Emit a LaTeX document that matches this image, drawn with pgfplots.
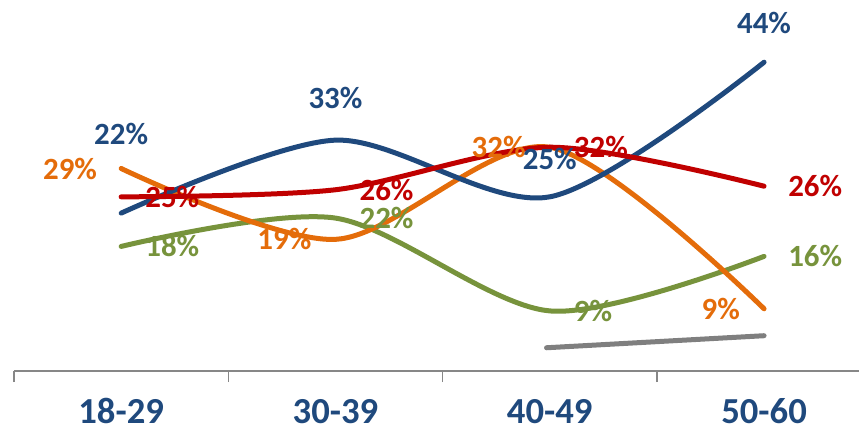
\documentclass[border=0pt]{standalone}
\usepackage{fontspec}
\setmainfont{Carlito}
\usepackage{pgfplots}
\pgfplotsset{compat=1.18}
\usepackage{pgfplotstable}
\definecolor{cblue}{HTML}{1F497D}
\definecolor{corange}{HTML}{E46C0A}
\definecolor{cred}{HTML}{C00000}
\definecolor{cgreen}{HTML}{77933C}
\definecolor{cgray}{HTML}{7F7F7F}
\definecolor{caxis}{HTML}{878787}
\tikzset{lbl/.style={font=\fontsize{31}{31}\selectfont\bfseries, inner sep=0pt}}

\pgfplotstableread{
x y lbl dy
0 22.7 22 79
1 33 33 42
2 25 25 38
3 44 44 39
}\blueT
\pgfplotstableread{
x y lbl
0 29 29
1 19 19
2 32 32
3 9.2 9
}\orangeT
\pgfplotstableread{
x y lbl
0 25 25
1 26 26
2 32 32
3 26.5 26
}\redT
\pgfplotstableread{
x y lbl
0 18 18
1 22 22
2 8.9 9
3 16.6 16
}\greenT
\pgfplotstableread{
x y
1.985 3.7
3 5.4
}\grayT

\begin{document}
\begin{tikzpicture}
\begin{axis}[
 at={(0,0)}, anchor=south west,
 scale only axis, width=845bp, height=371bp,
 xmin=-0.5, xmax=3.443, ymin=0.42, ymax=52.78,
 axis x line*=bottom, axis y line=none,
 axis line style={caxis, line width=1.5bp},
 xtick={0,1,2,3}, xticklabels={18-29,30-39,40-49,50-60},
 major tick length=0pt,
 extra x ticks={-0.5,0.5,1.5,2.5},
 extra x tick labels={},
 extra x tick style={major tick length=11bp, tick align=outside, tick style={caxis, line width=1.5bp}},
 xticklabel style={font=\fontsize{36.8}{40}\selectfont\bfseries, text=cblue, anchor=base, inner sep=0pt, yshift=-52bp},
 ytick=\empty,
 clip=false,
]
\addplot[cgray, line width=5bp, line cap=round] table[x=x,y=y]{\grayT};
\addplot[cgreen, smooth, line width=5bp, line cap=round] table[x=x,y=y]{\greenT};
\addplot[corange, smooth, line width=5bp, line cap=round] table[x=x,y=y]{\orangeT};
\addplot[cblue, smooth, line width=5bp, line cap=round] table[x=x,y=y]{\blueT};
\addplot[cred, smooth, line width=5bp, line cap=round] table[x=x,y=y]{\redT};

\addplot[draw=none, mark=none, point meta=explicit symbolic,
  nodes near coords={\pgfplotspointmeta\%},
  every node near coord/.append style={lbl, anchor=west, xshift=24bp, text=cgreen}]
  table[x=x,y=y,meta=lbl]{\greenT};
\addplot[draw=none, mark=none, point meta=explicit symbolic,
  nodes near coords={\pgfplotspointmeta\%},
  every node near coord/.append style={lbl, anchor=east, xshift=-24bp, text=corange}]
  table[x=x,y=y,meta=lbl]{\orangeT};
\addplot[draw=none, mark=none, point meta=explicit symbolic,
  nodes near coords={\pgfplotspointmeta\%},
  visualization depends on={\thisrow{dy}\as\dy},
  every node near coord/.append style={lbl, anchor=center, yshift=\dy bp, text=cblue}]
  table[x=x,y=y,meta=lbl]{\blueT};
\addplot[draw=none, mark=none, point meta=explicit symbolic,
  nodes near coords={\pgfplotspointmeta\%},
  every node near coord/.append style={lbl, anchor=west, xshift=24bp, text=cred}]
  table[x=x,y=y,meta=lbl]{\redT};
\end{axis}
\pgfresetboundingbox
\path[use as bounding box] (-14bp,-60bp) rectangle (845bp,371bp);
\end{tikzpicture}
\end{document}
